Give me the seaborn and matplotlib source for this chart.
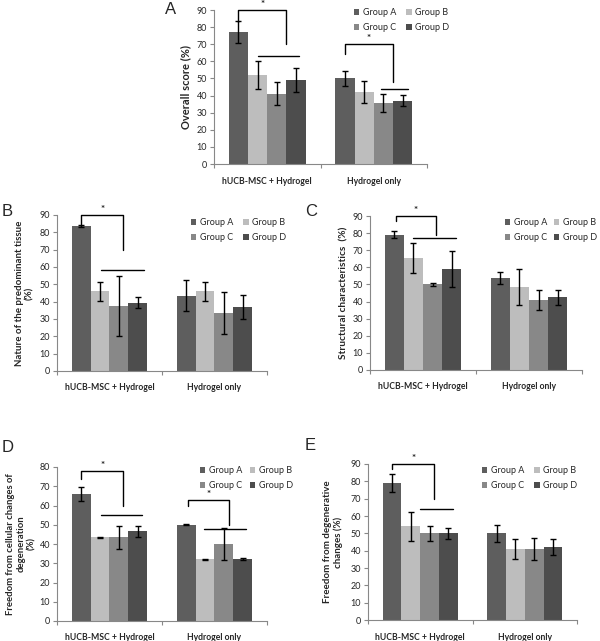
import numpy as np
import pandas as pd
import matplotlib
matplotlib.use("Agg")
import matplotlib.pyplot as plt
import seaborn as sns

sns.set_style("white")
plt.rcParams['font.family'] = ['Lato', 'DejaVu Sans']

# categories
treatments = ["hUCB-MSC + Hydrogel", "Hydrogel only"]
groups = ["Group A", "Group B", "Group C", "Group D"]
colors = ["#5e5e5e", "#bdbdbd", "#888888", "#4d4d4d"]

# means (hUCB A-D, Hydrogel A-D) and error bars
a_mean = [77, 52, 41, 49, 50, 42, 35.5, 37]
a_err = [6.5, 8.3, 6.7, 7, 4.3, 6.3, 5.3, 3.3]
b_mean = [83.5, 46, 37.5, 39.5, 43.5, 46, 33.5, 37]
b_err = [0.5, 5.5, 17.5, 3, 9, 5.5, 12.3, 6.8]
c_mean = [79, 65.5, 50, 59, 54, 48.5, 41, 42.5]
c_err = [2, 9, 1, 10.5, 3.5, 10.5, 6, 4.3]
d_mean = [66, 43.5, 43.5, 46.5, 50, 32, 40, 32]
d_err = [3.5, 0.2, 6, 3, 0.15, 0.15, 8.2, 0.5]
e_mean = [79, 54, 50, 50, 50, 41, 41, 42]
e_err = [5.3, 8.3, 4.3, 3.3, 5, 5.8, 6.3, 4.6]

# significance brackets: (x_left, y_left_end, x_right, y_right_end, y_top), lines: (x0, x1, y)
a_brackets = [(-0.27, 83, 0.18, 70, 90), (0.73, 64, 1.18, 48, 70)]
a_lines = [(-0.09, 0.3, 63), (1.07, 1.32, 44)]
b_brackets = [(-0.27, 84, 0.13, 70, 90)]
b_lines = [(-0.08, 0.33, 58.5)]
c_brackets = [(-0.255, 87, 0.12, 79, 90)]
c_lines = [(-0.09, 0.31, 77)]
d_brackets = [(-0.27, 74, 0.13, 60, 78), (0.75, 60, 1.14, 50, 63)]
d_lines = [(-0.085, 0.31, 55), (0.9, 1.3, 48)]
e_brackets = [(-0.27, 87, 0.135, 70, 90)]
e_lines = [(0.0, 0.31, 64)]

W, H = 600, 641
fig = plt.figure(figsize=(6, 6.41), dpi=100)


def px_axes(left, top, right, bottom):
    return fig.add_axes([left / W, 1 - bottom / H, (right - left) / W, (bottom - top) / H])


def panel(ax, means, errs, ymax, ylabel, brackets, lines, letter, letter_xy, leg_xy,
          ylab_x, ylab_size=7, colsp=1.1):
    df = pd.DataFrame({
        "treatment": np.repeat(treatments, 4),
        "group": groups * 2,
        "value": means,
    })
    sns.barplot(data=df, x="treatment", y="value", hue="group", hue_order=groups,
                palette=colors, width=0.72, errorbar=None, saturation=1,
                edgecolor="none", ax=ax)
    # error bars at bar centres (sorted left to right: hUCB A-D, Hydrogel A-D)
    xs = sorted(p.get_x() + p.get_width() / 2 for p in ax.patches[:8])
    ax.errorbar(xs, means, yerr=errs, fmt="none", ecolor="black", elinewidth=1,
                capsize=2, capthick=1)
    for xl, yl, xr, yr, yt in brackets:
        ax.plot([xl, xl, xr, xr], [yl, yt, yt, yr], color="black", lw=1, clip_on=False)
        ax.text((xl + xr) / 2, yt + 0.5, "*", ha="center", va="bottom", fontsize=7,
                fontweight="bold")
    for x0, x1, y in lines:
        ax.plot([x0, x1], [y, y], color="black", lw=1)
    ax.set_ylim(0, ymax)
    ax.set_xlim(-0.5, 1.5)
    ax.set_yticks(np.arange(0, ymax + 1, 10))
    ax.tick_params(axis="y", labelsize=6.5, length=3, width=0.8, direction="out",
                   color="#888888", pad=2, left=True)
    ax.set_xticks([0, 1])
    ax.set_xticklabels(treatments, fontsize=6.2, fontweight="bold")
    ax.tick_params(axis="x", length=0, pad=9)
    ax.set_xticks([-0.5, 0.5, 1.5], minor=True)
    ax.tick_params(axis="x", which="minor", length=3, width=0.8, color="#888888",
                   direction="out", bottom=True)
    for s in ["top", "right"]:
        ax.spines[s].set_visible(False)
    for s in ["left", "bottom"]:
        ax.spines[s].set_color("#888888")
        ax.spines[s].set_linewidth(0.8)
    ax.set_xlabel("")
    ax.set_ylabel(ylabel, fontsize=ylab_size, fontweight="bold", linespacing=1.2)
    pos = ax.get_position()
    ax.yaxis.set_label_coords((ylab_x - pos.x0 * W) / (pos.width * W), 0.5)
    h, l = ax.get_legend_handles_labels()
    # row-wise order: A B / C D
    h = [h[0], h[2], h[1], h[3]]
    l = [l[0], l[2], l[1], l[3]]
    ax.legend(h, l, ncol=2, frameon=False, fontsize=6.5, handlelength=0.6,
              handleheight=0.6, handletextpad=0.4, columnspacing=colsp,
              labelspacing=0.7, loc="upper left",
              bbox_to_anchor=(leg_xy[0] / W, 1 - leg_xy[1] / H),
              bbox_transform=fig.transFigure, borderaxespad=0, borderpad=0)
    fig.text(letter_xy[0] / W, 1 - letter_xy[1] / H, letter, fontsize=12,
             family="Liberation Sans", ha="left", va="center")


axA = px_axes(214, 10, 427, 164)
panel(axA, a_mean, a_err, 90, "Overall score (%)", a_brackets, a_lines, "A",
      (165, 9), (354, 8), 191, ylab_size=8)

axB = px_axes(57, 215, 267, 371)
panel(axB, b_mean, b_err, 90, "Nature of the predominant tissue\n(%)", b_brackets, b_lines,
      "B", (2, 212), (191, 218), 34, ylab_size=7)

axC = px_axes(370, 216, 582, 370)
panel(axC, c_mean, c_err, 90, "Structural characteristics  (%)", c_brackets, c_lines,
      "C", (305, 211), (505, 218), 348, ylab_size=7.3, colsp=0.7)

axD = px_axes(57, 467, 267, 621)
panel(axD, d_mean, d_err, 80, "Freedom from cellular changes of\ndegeneration\n(%)",
      d_brackets, d_lines, "D", (2, 448), (200, 466), 36, ylab_size=6.8, colsp=0.8)

axE = px_axes(368, 464, 577, 620)
panel(axE, e_mean, e_err, 90, "Freedom from degenerative\nchanges (%)", e_brackets, e_lines,
      "E", (305, 445), (482, 466), 343, ylab_size=7)

fig.savefig("out.png", dpi=100, facecolor="white")
